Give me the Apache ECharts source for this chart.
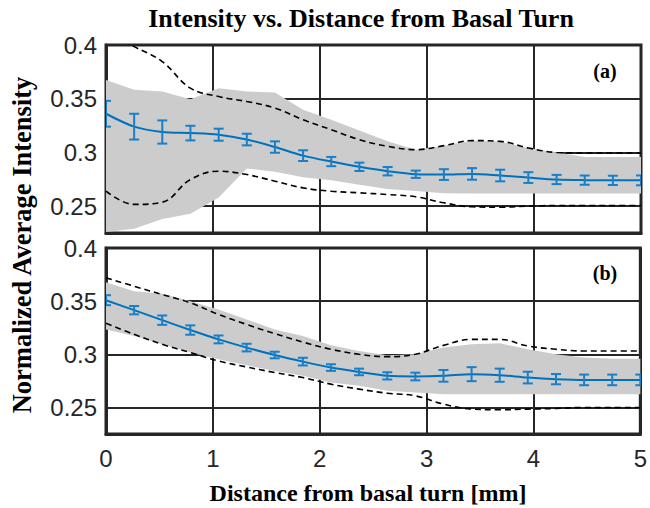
<!DOCTYPE html>
<html><head><meta charset="utf-8">
<script src="https://cdn.jsdelivr.net/npm/echarts@6/dist/echarts.min.js"></script>
<style>html,body{margin:0;padding:0;background:#fff}#c{width:650px;height:508px}</style>
</head><body><div id="c"></div><script>
// ---- data ----
const xs = [0,0.263,0.526,0.789,1.053,1.316,1.579,1.842,2.105,2.368,2.632,2.895,3.158,3.421,3.684,3.947,4.211,4.474,4.737,5.0];
const xTicks = [0,1,2,3,4,5];
const yTicks = [0.25,0.3,0.35,0.4];

// panel (a)
const meanA   = [0.336,0.324,0.319,0.318,0.3165,0.312,0.305,0.297,0.2915,0.2866,0.2825,0.2797,0.2794,0.280,0.2785,0.2766,0.2748,0.2742,0.274,0.274];
const errA    = [0.012,0.012,0.0108,0.0068,0.0056,0.0054,0.0053,0.005,0.0043,0.0039,0.0039,0.0034,0.005,0.0054,0.0054,0.005,0.0043,0.0043,0.0043,0.0046];
const bandUpA = [0.3675,0.3583,0.3567,0.3496,0.3598,0.3567,0.3558,0.3397,0.3304,0.3205,0.3103,0.3026,0.3063,0.311,0.310,0.3042,0.300,0.2958,0.2958,0.2958];
const bandLoA = [0.226,0.229,0.238,0.243,0.258,0.285,0.282,0.277,0.274,0.270,0.266,0.264,0.262,0.2618,0.2618,0.2618,0.2618,0.2618,0.2618,0.2618];
const dashUpA = [0.412,0.3985,0.3845,0.3598,0.352,0.3474,0.3413,0.3304,0.3212,0.3119,0.3057,0.3026,0.3063,0.311,0.3103,0.3042,0.300,0.2995,0.2995,0.2995];
const dashLoA = [0.2639,0.2516,0.2537,0.2748,0.2825,0.2794,0.2732,0.267,0.2639,0.2624,0.2608,0.2587,0.2531,0.2494,0.249,0.250,0.2506,0.2506,0.2506,0.2506];

// panel (b)
const meanB   = [0.3509,0.3415,0.3321,0.3228,0.314,0.3063,0.2993,0.2931,0.2875,0.2834,0.2797,0.2791,0.2797,0.2813,0.2803,0.2781,0.2766,0.2759,0.2759,0.2759];
const errB    = [0.0047,0.0039,0.0044,0.0044,0.0037,0.0036,0.0031,0.0036,0.0031,0.0031,0.0034,0.0036,0.0055,0.0066,0.0062,0.0055,0.0048,0.005,0.005,0.005];
const bandUpB = [0.3678,0.3594,0.3572,0.350,0.3422,0.3328,0.3234,0.3172,0.3084,0.3031,0.2991,0.300,0.3063,0.3094,0.3103,0.3047,0.300,0.2969,0.2959,0.2959];
const bandLoB = [0.3234,0.3172,0.3094,0.3016,0.2953,0.2897,0.2843,0.2797,0.2734,0.2703,0.2656,0.264,0.2625,0.2625,0.2625,0.2625,0.2625,0.2625,0.2625,0.2625];
const dashUpB = [0.3719,0.364,0.3562,0.3484,0.3375,0.3281,0.3194,0.3115,0.3047,0.300,0.2978,0.300,0.3084,0.314,0.314,0.3078,0.3047,0.3031,0.3031,0.3031];
const dashLoB = [0.3291,0.3188,0.3094,0.3016,0.2937,0.2881,0.2828,0.2781,0.2719,0.2672,0.2634,0.2609,0.2531,0.2484,0.2478,0.2484,0.249,0.25,0.25,0.25];

const TITLE = 'Intensity vs. Distance from Basal Turn';
const XTITLE = 'Distance from basal turn [mm]';
const YTITLE = 'Normalized Average Intensity';

// ---- styling ----
const BLUE = '#0072BD';
const DARK = '#262626';
const GREY = '#cccccc';
const SERIF = '"Liberation Serif","Times New Roman",serif';
const SANS = '"Liberation Sans",Arial,sans-serif';

const chart = echarts.init(document.getElementById('c'), null, {renderer:'svg'});

function xAxis(gi, labels){
  return {type:'value', gridIndex:gi, min:0, max:5, interval:1,
    axisLine:{show:true, onZero:false, lineStyle:{color:DARK, width:3}},
    axisTick:{show:false},
    axisLabel:{show:labels, color:DARK, fontSize:24, fontFamily:SANS, margin:12},
    splitLine:{show:true, lineStyle:{color:DARK, width:2}}};
}
function yAxis(gi){
  return {type:'value', gridIndex:gi, min:0.225, max:0.4,
    axisLine:{show:true, onZero:false, lineStyle:{color:DARK, width:3}},
    axisTick:{show:false, customValues:yTicks},
    axisLabel:{show:true, customValues:yTicks, color:DARK, fontSize:24, fontFamily:SANS, margin:9},
    splitLine:{show:true, lineStyle:{color:DARK, width:2}}};
}
function band(gi, up, lo){
  return {type:'custom', xAxisIndex:gi, yAxisIndex:gi, z:2, silent:true, clip:true,
    data:[[1,0.3]],
    renderItem:(p, api)=>{
      const pts=[];
      for(let i=0;i<xs.length;i++) pts.push(api.coord([xs[i], up[i]]));
      for(let i=xs.length-1;i>=0;i--) pts.push(api.coord([xs[i], lo[i]]));
      return {type:'polygon', shape:{points:pts}, style:{fill:GREY, stroke:null}};
    }};
}
function dash(gi, vals){
  return {type:'line', xAxisIndex:gi, yAxisIndex:gi, z:3, silent:true, smooth:0.4,
    showSymbol:false, data:xs.map((x,i)=>[x, vals[i]]),
    lineStyle:{color:'#000', width:1.6, type:[6,4]}};
}
function mean(gi, vals){
  return {type:'line', xAxisIndex:gi, yAxisIndex:gi, z:4, silent:true, smooth:0.3,
    showSymbol:false, data:xs.map((x,i)=>[x, vals[i]]),
    lineStyle:{color:BLUE, width:2}};
}
function errbars(gi, m, e){
  return {type:'custom', xAxisIndex:gi, yAxisIndex:gi, z:5, silent:true, clip:true,
    data:xs.map((x,i)=>[x, m[i], e[i]]),
    renderItem:(p, api)=>{
      const x=api.value(0), v=api.value(1), d=api.value(2);
      const t=api.coord([x, v+d]), b=api.coord([x, v-d]);
      const w=5, st={stroke:'#1a7fc9', lineWidth:2};
      return {type:'group', children:[
        {type:'line', shape:{x1:t[0],y1:t[1],x2:b[0],y2:b[1]}, style:st},
        {type:'line', shape:{x1:t[0]-w,y1:t[1],x2:t[0]+w,y2:t[1]}, style:st},
        {type:'line', shape:{x1:b[0]-w,y1:b[1],x2:b[0]+w,y2:b[1]}, style:st}
      ]};
    }};
}

chart.setOption({
  animation:false,
  grid:[
    {left:106, top:45, width:535, height:188, show:true, borderColor:DARK, borderWidth:3, backgroundColor:'#fff'},
    {left:106, top:248, width:535, height:186, show:true, borderColor:DARK, borderWidth:3, backgroundColor:'#fff'}
  ],
  xAxis:[xAxis(0,false), xAxis(1,true)],
  yAxis:[yAxis(0), yAxis(1)],
  series:[
    band(0, bandUpA, bandLoA), dash(0, dashUpA), dash(0, dashLoA), mean(0, meanA), errbars(0, meanA, errA),
    band(1, bandUpB, bandLoB), dash(1, dashUpB), dash(1, dashLoB), mean(1, meanB), errbars(1, meanB, errB)
  ],
  graphic:[
    {type:'text', x:361, y:18, style:{text:TITLE, font:'bold 26px '+SERIF, fill:'#000', textAlign:'center', textVerticalAlign:'middle'}},
    {type:'text', x:368, y:493, style:{text:XTITLE, font:'bold 24px '+SERIF, fill:'#000', textAlign:'center', textVerticalAlign:'middle'}},
    {type:'text', x:22, y:245, rotation:Math.PI/2, style:{text:YTITLE, font:'bold 26.5px '+SERIF, fill:'#000', textAlign:'center', textVerticalAlign:'middle'}},
    {type:'text', x:605, y:71, style:{text:'(a)', font:'bold 20px '+SERIF, fill:'#000', textAlign:'center', textVerticalAlign:'middle'}},
    {type:'text', x:605, y:273, style:{text:'(b)', font:'bold 20px '+SERIF, fill:'#000', textAlign:'center', textVerticalAlign:'middle'}}
  ]
});
</script></body></html>
